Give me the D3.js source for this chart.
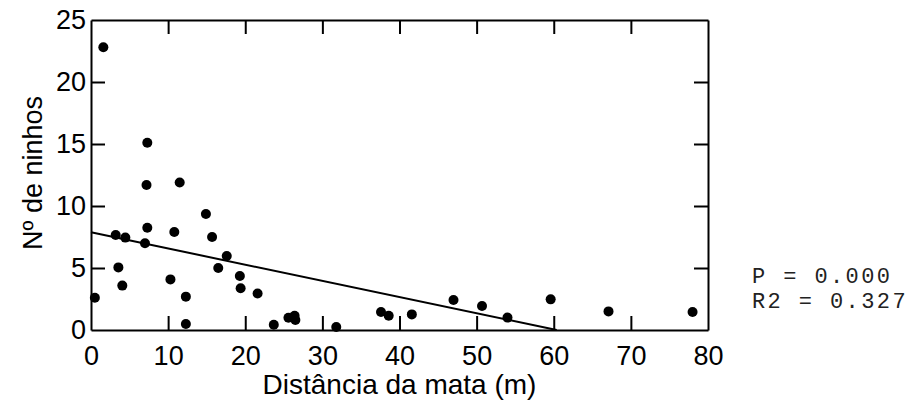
<!DOCTYPE html>
<html>
<head>
<meta charset="utf-8">
<script src="https://cdn.jsdelivr.net/npm/d3@7"></script>
<style>
  body { margin: 0; background: #fff; }
  .tick text { font-family: "Liberation Sans", Arial, sans-serif; font-size: 27px; fill: #000; }
</style>
</head>
<body>
<div class="chart"></div>
<script>
var svgWidth = 912;
var svgHeight = 400;

var margin = { top: 20, right: 204, bottom: 70, left: 91 };
var width = svgWidth - margin.left - margin.right;
var height = svgHeight - margin.top - margin.bottom;

// distance from the forest (m) and number of nests
var distancia = [1.6, 7.3, 7.2, 11.5, 14.9, 3.2, 4.45, 7.3, 7.0, 10.8, 15.7, 17.6,
  3.55, 16.5, 19.3, 10.3, 4.06, 19.4, 21.6, 0.5, 12.3, 12.3, 23.7, 25.6, 26.4,
  26.5, 31.8, 37.6, 38.6, 41.6, 47.0, 50.7, 54.0, 59.6, 67.1, 78.0];
var ninhos = [22.8, 15.1, 11.7, 11.9, 9.35, 7.66, 7.45, 8.25, 7.0, 7.9, 7.5, 5.97,
  5.05, 5.0, 4.35, 4.08, 3.58, 3.36, 2.95, 2.6, 2.69, 0.48, 0.43, 0.99, 1.15,
  0.8, 0.24, 1.45, 1.15, 1.26, 2.42, 1.94, 1.0, 2.47, 1.5, 1.45];

// fitted line
var intercept = 7.88;
var slope = -0.1305;

var xTicks = [0, 10, 20, 30, 40, 50, 60, 70, 80];
var yTicks = [0, 5, 10, 15, 20, 25];
var stats = ["P = 0.000", "R2 = 0.327"];

var svg = d3.select(".chart")
  .append("svg")
  .attr("width", svgWidth)
  .attr("height", svgHeight);

var chartGroup = svg.append("g")
  .attr("transform", `translate(${margin.left}, ${margin.top})`);

var xScale = d3.scaleLinear().domain([0, 80]).range([0, width]);
var yScale = d3.scaleLinear().domain([0, 25]).range([height, 0]);

var tickLen = 14;

// axes with inward ticks on all four sides
var bottomAxis = d3.axisBottom(xScale).tickValues(xTicks).tickSizeInner(-tickLen).tickSizeOuter(0).tickPadding(tickLen + 2);
var topAxis = d3.axisTop(xScale).tickValues(xTicks).tickSizeInner(-tickLen).tickSizeOuter(0).tickFormat("");
var leftAxis = d3.axisLeft(yScale).tickValues(yTicks).tickSizeInner(-tickLen).tickSizeOuter(0).tickPadding(5);
var rightAxis = d3.axisRight(yScale).tickValues(yTicks).tickSizeInner(-tickLen).tickSizeOuter(0).tickFormat("");

chartGroup.append("g").attr("transform", `translate(0,${height})`).call(bottomAxis);
chartGroup.append("g").call(topAxis);
chartGroup.append("g").call(leftAxis);
chartGroup.append("g").attr("transform", `translate(${width},0)`).call(rightAxis);

chartGroup.selectAll(".domain, .tick line")
  .attr("stroke", "#000")
  .attr("stroke-width", 2);

// remove ticks that sit on the corners
chartGroup.selectAll(".tick line").filter(function(d) {
  return d === 0 || d === 80 || d === 25;
}).remove();

// regression line, stopped where it reaches zero
var xEnd = -intercept / slope;
chartGroup.append("line")
  .attr("x1", xScale(0))
  .attr("y1", yScale(intercept))
  .attr("x2", xScale(xEnd))
  .attr("y2", yScale(0))
  .attr("stroke", "#000")
  .attr("stroke-width", 2);

var data = distancia.map((d, i) => ({ x: d, y: ninhos[i] }));

chartGroup.selectAll("circle")
  .data(data)
  .enter()
  .append("circle")
  .attr("cx", d => xScale(d.x))
  .attr("cy", d => yScale(d.y))
  .attr("r", 5)
  .attr("fill", "#000");

// axis titles
chartGroup.append("text")
  .attr("x", width / 2)
  .attr("y", height + 64)
  .attr("text-anchor", "middle")
  .style("font-family", "Liberation Sans, Arial, sans-serif")
  .style("font-size", "28px")
  .text("Distância da mata (m)");

chartGroup.append("text")
  .attr("transform", `translate(${-margin.left + 42}, ${height / 2 - 2}) rotate(-90)`)
  .attr("text-anchor", "middle")
  .style("font-family", "Liberation Sans, Arial, sans-serif")
  .style("font-size", "27px")
  .text("Nº de ninhos");

// statistics
svg.append("g")
  .selectAll("text")
  .data(stats)
  .enter()
  .append("text")
  .attr("x", 752)
  .attr("y", (d, i) => 283 + i * 25)
  .style("font-family", "Liberation Mono, Courier New, monospace")
  .style("font-size", "22px")
  .style("letter-spacing", "2.4px")
  .style("fill", "#222")
  .text(d => d);
</script>
</body>
</html>
